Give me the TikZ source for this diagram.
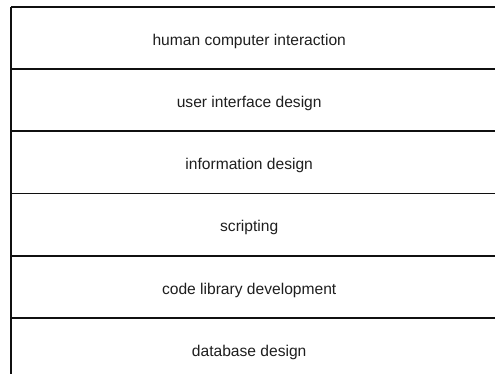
\documentclass[tikz,border=0pt]{standalone}
\usepackage{fontspec}
\setmainfont{Liberation Sans}
\usepackage{xcolor}
\usetikzlibrary{positioning}
\definecolor{inkK}{HTML}{1E1E1E}
\definecolor{ruleK}{HTML}{101010}

\tikzset{
  layer/.style={minimum width=476pt, minimum height=61.8pt, inner sep=0pt,
    text height=14.2pt, text depth=0pt,
    font=\fontsize{15.6pt}{18pt}\selectfont, text=inkK},
  rule/.style={draw=ruleK, line width=1.8pt}
}

\begin{document}
\begin{tikzpicture}[x=1pt, y=1pt]
  \useasboundingbox (0,0) rectangle (495,-374);
  \clip (0,0) rectangle (495,-374);
  % stack of layers, top to bottom
  \node[layer, anchor=north west] (hci) at (11,-7) {human computer interaction};
  \node[layer, below=0pt of hci] (uid) {user interface design};
  \node[layer, below=0pt of uid] (info) {information design};
  \node[layer, below=0pt of info] (script) {scripting};
  \node[layer, below=0pt of script] (codelib) {code library development};
  \node[layer, below=0pt of codelib] (db) {database design};
  % rules between the layers
  \foreach \n in {hci,uid,info,script,codelib,db}
    \draw[rule] (\n.north west) -- ++(520,0);
  \draw[rule] (hci.north west) -- ++(0,-400);
\end{tikzpicture}
\end{document}
